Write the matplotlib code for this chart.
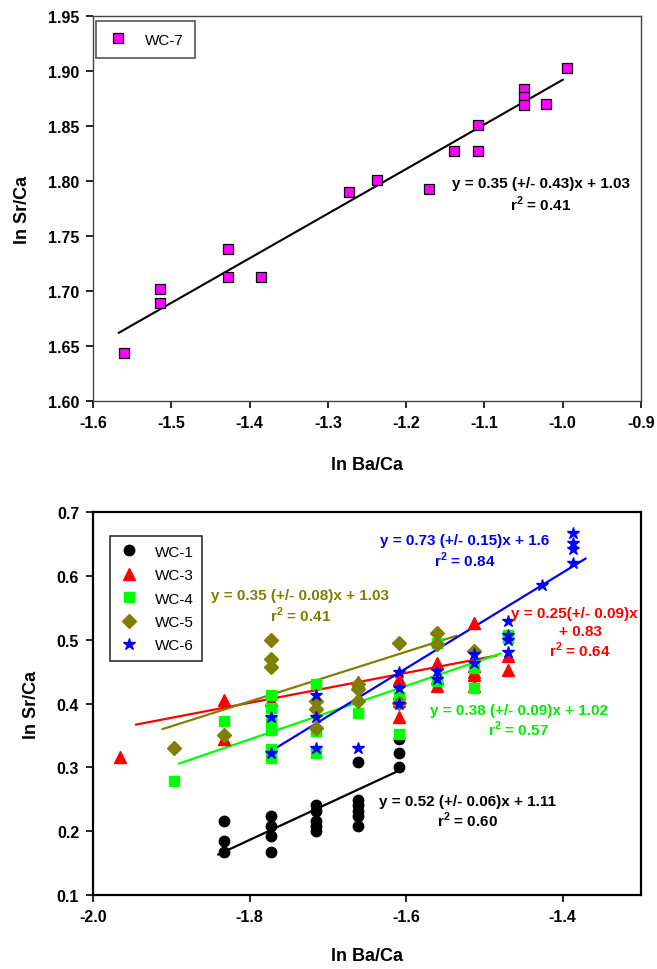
import matplotlib
matplotlib.use("Agg")
from matplotlib import pyplot as plt

plt.rcParams['font.family'] = ['Liberation Sans', 'DejaVu Sans']
plt.rcParams['mathtext.fontset'] = 'custom'
plt.rcParams['mathtext.rm'] = 'Liberation Sans:bold'
plt.rcParams['mathtext.bf'] = 'Liberation Sans:bold'

# --- top panel: WC-7 ---
wc7_x = [-1.561, -1.514, -1.514, -1.427, -1.427, -1.386, -1.273, -1.237, -1.171,
         -1.139, -1.108, -1.108, -1.049, -1.049, -1.049, -1.021, -0.994]
wc7_y = [1.644, 1.702, 1.689, 1.738, 1.713, 1.713, 1.790, 1.801, 1.793,
         1.827, 1.851, 1.827, 1.884, 1.876, 1.869, 1.870, 1.903]
wc7_fit_x = [-1.567, -1.000]
wc7_fit_y = [1.662, 1.892]

# --- bottom panel ---
wc1_x = [-1.833, -1.833, -1.833, -1.773, -1.773, -1.773, -1.773,
         -1.715, -1.715, -1.715, -1.715, -1.715,
         -1.661, -1.661, -1.661, -1.661, -1.661, -1.661,
         -1.609, -1.609, -1.609]
wc1_y = [0.216, 0.184, 0.167, 0.224, 0.208, 0.192, 0.167,
         0.241, 0.232, 0.216, 0.208, 0.200,
         0.308, 0.249, 0.241, 0.232, 0.224, 0.208,
         0.345, 0.323, 0.301]

wc3_x = [-1.966, -1.833, -1.833, -1.773, -1.661,
         -1.609, -1.609, -1.609, -1.609,
         -1.560, -1.560, -1.560,
         -1.514, -1.514, -1.514, -1.514, -1.514,
         -1.470, -1.470]
wc3_y = [0.316, 0.405, 0.345, 0.406, 0.433,
         0.439, 0.417, 0.404, 0.379,
         0.464, 0.440, 0.427,
         0.526, 0.458, 0.450, 0.445, 0.427,
         0.474, 0.452]

wc4_x = [-1.897, -1.833,
         -1.773, -1.773, -1.773, -1.773, -1.773, -1.773,
         -1.715, -1.715, -1.715, -1.661,
         -1.609, -1.609, -1.560, -1.560,
         -1.514, -1.514, -1.470, -1.470]
wc4_y = [0.278, 0.372,
         0.414, 0.393, 0.372, 0.358, 0.329, 0.315,
         0.431, 0.357, 0.323, 0.385,
         0.410, 0.352, 0.495, 0.436,
         0.424, 0.455, 0.508, 0.503]

wc5_x = [-1.897, -1.833, -1.773, -1.773, -1.773,
         -1.715, -1.715, -1.715, -1.661, -1.661, -1.661,
         -1.609, -1.609, -1.560, -1.560, -1.514]
wc5_y = [0.330, 0.351, 0.500, 0.470, 0.457,
         0.404, 0.392, 0.362, 0.430, 0.422, 0.404,
         0.495, 0.401, 0.511, 0.494, 0.483]

wc6_x = [-1.773, -1.773, -1.715, -1.715, -1.715, -1.661,
         -1.609, -1.609, -1.609, -1.560, -1.560, -1.514, -1.514,
         -1.470, -1.470, -1.470, -1.470, -1.427,
         -1.387, -1.387, -1.387, -1.387]
wc6_y = [0.379, 0.322, 0.413, 0.379, 0.330, 0.330,
         0.450, 0.424, 0.399, 0.451, 0.438, 0.477, 0.464,
         0.530, 0.508, 0.500, 0.481, 0.586,
         0.667, 0.651, 0.642, 0.620]

# fitted lines as drawn (start, end)
fit_x = {'WC-1': [-1.840, -1.609], 'WC-3': [-1.945, -1.485], 'WC-4': [-1.890, -1.480],
         'WC-5': [-1.911, -1.536], 'WC-6': [-1.776, -1.371]}
fit_y = {'WC-1': [0.1635, 0.295], 'WC-3': [0.367, 0.475], 'WC-4': [0.306, 0.478],
         'WC-5': [0.360, 0.506], 'WC-6': [0.323, 0.627]}

OLIVE = '#808000'
series = [
    ('WC-1', wc1_x, wc1_y, 'o', 'black', 7.5),
    ('WC-3', wc3_x, wc3_y, '^', 'red', 8),
    ('WC-4', wc4_x, wc4_y, 's', '#00ff00', 7.5),
    ('WC-5', wc5_x, wc5_y, 'D', OLIVE, 7),
    ('WC-6', wc6_x, wc6_y, '*', 'blue', 9),
]

fig = plt.figure(figsize=(6.57, 9.70), dpi=100)
ax1 = fig.add_axes([0.1416, 0.5856, 0.8341, 0.3969])
ax2 = fig.add_axes([0.1416, 0.0763, 0.8341, 0.3948])

# top panel
ax1.plot(wc7_fit_x, wc7_fit_y, color='black', lw=1.5, zorder=2)
ax1.plot(wc7_x, wc7_y, 's', color='#ff00ff', mec='black', mew=0.9, ms=7,
         label='WC-7', zorder=3)
ax1.set_xlim(-1.6, -0.9)
ax1.set_ylim(1.60, 1.95)
ax1.set_xticks([-1.6, -1.5, -1.4, -1.3, -1.2, -1.1, -1.0, -0.9])
ax1.set_xticklabels(['-1.6', '-1.5', '-1.4', '-1.3', '-1.2', '-1.1', '-1.0', '-0.9'])
ax1.set_yticks([1.60, 1.65, 1.70, 1.75, 1.80, 1.85, 1.90, 1.95])
ax1.set_yticklabels(['%.2f' % v for v in [1.60, 1.65, 1.70, 1.75, 1.80, 1.85, 1.90, 1.95]])
ax1.text(-1.028, 1.798, 'y = 0.35 (+/- 0.43)x + 1.03', ha='center', va='center',
         fontsize=11, fontweight='bold')
ax1.text(-1.028, 1.780, r'r$^{2}$ = 0.41', ha='center', va='center',
         fontsize=11, fontweight='bold')
leg1 = ax1.legend(loc='upper left', bbox_to_anchor=(0.006, 0.986), fontsize=11,
                  fancybox=False, edgecolor='#555555', framealpha=1,
                  borderpad=0.75, handlelength=1.4, handletextpad=1.0,
                  borderaxespad=0)
leg1.get_frame().set_linewidth(1.2)
for s in ax1.spines.values():
    s.set_color('#444444')
    s.set_linewidth(1.0)

# bottom panel
for name, xs, ys, m, c, ms in series:
    ax2.plot(fit_x[name], fit_y[name], color=c, lw=1.6, zorder=2)
for name, xs, ys, m, c, ms in series:
    ax2.plot(xs, ys, m, color=c, mec=c, ms=ms, label=name, zorder=3,
             linestyle='none')
ax2.set_xlim(-2.0, -1.3)
ax2.set_ylim(0.1, 0.7)
ax2.set_xticks([-2.0, -1.8, -1.6, -1.4])
ax2.set_xticklabels(['-2.0', '-1.8', '-1.6', '-1.4'])
ax2.set_yticks([0.1, 0.2, 0.3, 0.4, 0.5, 0.6, 0.7])
ax2.set_yticklabels(['0.1', '0.2', '0.3', '0.4', '0.5', '0.6', '0.7'])

eqs = [
    (-1.525, 0.656, 'y = 0.73 (+/- 0.15)x + 1.6', 'blue'),
    (-1.525, 0.626, r'r$^{2}$ = 0.84', 'blue'),
    (-1.7355, 0.570, 'y = 0.35 (+/- 0.08)x + 1.03', OLIVE),
    (-1.7355, 0.540, r'r$^{2}$ = 0.41', OLIVE),
    (-1.385, 0.542, 'y = 0.25(+/- 0.09)x', 'red'),
    (-1.378, 0.514, '+ 0.83', 'red'),
    (-1.378, 0.485, r'r$^{2}$ = 0.64', 'red'),
    (-1.4565, 0.390, 'y = 0.38 (+/- 0.09)x + 1.02', '#00ee00'),
    (-1.4565, 0.361, r'r$^{2}$ = 0.57', '#00ee00'),
    (-1.522, 0.248, 'y = 0.52 (+/- 0.06)x + 1.11', 'black'),
    (-1.522, 0.219, r'r$^{2}$ = 0.60', 'black'),
]
for x, y, t, c in eqs:
    ax2.text(x, y, t, ha='center', va='center', fontsize=11, fontweight='bold',
             color=c, zorder=4)

leg2 = ax2.legend(loc='upper left', bbox_to_anchor=(0.031, 0.937), fontsize=11,
                  fancybox=False, edgecolor='#333333', framealpha=1,
                  borderpad=0.55, labelspacing=0.62, handlelength=1.4,
                  handletextpad=1.0, borderaxespad=0)
leg2.get_frame().set_linewidth(1.2)
for s in ax2.spines.values():
    s.set_color('black')
    s.set_linewidth(1.6)

for ax in (ax1, ax2):
    ax.tick_params(direction='out', length=5, width=1.2, pad=5, labelsize=11.5)
    for lab in ax.get_xticklabels() + ax.get_yticklabels():
        lab.set_fontweight('bold')
    ax.set_ylabel('ln Sr/Ca', fontsize=13, fontweight='bold', labelpad=12)
ax1.set_xlabel('ln Ba/Ca', fontsize=13, fontweight='bold', labelpad=19)
ax2.set_xlabel('ln Ba/Ca', fontsize=13, fontweight='bold', labelpad=17)

fig.savefig('out.png', dpi=100)
